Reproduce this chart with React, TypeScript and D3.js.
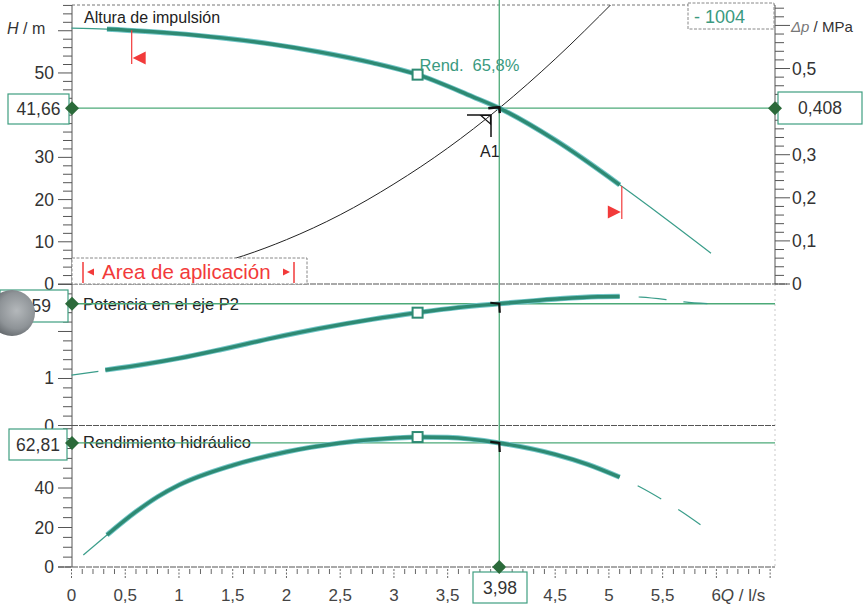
import React from "react";
import * as d3 from "d3";

// ---------- data ----------
const Q_H = [0, 0.33, 0.94, 1.4, 1.87, 2.3, 2.8, 3.22, 3.73, 3.98, 4.5, 5.1, 5.5, 5.95];
const H_VAL = [60.6, 60.4, 59.4, 58.3, 56.8, 55.0, 52.4, 49.6, 44.4, 41.66, 34.1, 23.5, 16.0, 7.3];

const Q_SYS = [1.2, 1.6, 2, 2.5, 3, 3.5, 3.98, 4.5, 5.05];
const H_SYS = [3.8, 6.7, 10.5, 16.4, 23.7, 32.2, 41.66, 53.3, 67.0];

const Q_P = [0, 0.25, 0.315, 0.7, 1.0, 1.4, 1.87, 2.3, 2.8, 3.22, 3.6, 3.98, 4.5, 4.9, 5.1, 5.3, 5.56, 5.7, 5.94];
const P_VAL = [1.07, 1.15, 1.18, 1.31, 1.43, 1.62, 1.86, 2.06, 2.26, 2.4, 2.51, 2.59, 2.69, 2.74, 2.745, 2.73, 2.67, 2.63, 2.59];

const Q_E = [0.11, 0.33, 0.6, 0.8, 1.0, 1.5, 2.0, 2.5, 3.0, 3.22, 3.5, 3.98, 4.5, 4.8, 5.1, 5.29, 5.5, 5.66, 5.88];
const E_VAL = [6.1, 16.2, 28, 35.5, 41.5, 51.5, 58.3, 62.8, 65.3, 65.8, 65.6, 62.81, 57, 52, 45.5, 40.5, 34, 28.6, 20.3];

const X_LABELS = ["0", "0,5", "1", "1,5", "2", "2,5", "3", "3,5", "", "4,5", "5", "5,5"];
const H_LABELS = [[0, "0"], [10, "10"], [20, "20"], [30, "30"], [50, "50"]] as [number, string][];
const DP_LABELS = [[0, "0"], [0.1, "0,1"], [0.2, "0,2"], [0.3, "0,3"], [0.5, "0,5"]] as [number, string][];
const P_LABELS = [[0, "0"], [1, "1"]] as [number, string][];
const E_LABELS = [[0, "0"], [20, "20"], [40, "40"]] as [number, string][];

const Q_OP = 3.98;
const H_OP = 41.66;
const DP_OP = 0.408;
const P_OP = 2.59;
const E_OP = 62.81;
const Q_BEP = 3.22;
const Q_APP_MIN = 0.56;
const Q_APP_MAX = 5.12;
const Q_THICK_MIN = 0.315;
const Q_THICK_MAX = 5.1;

// ---------- layout ----------
const W = 863, H = 607;
const L = 72, R = 775;
const TOP = 5, Y1 = 284, Y2 = 425.5, Y3 = 567;
const FONT = "'Liberation Sans', Arial, sans-serif";
const TEAL = "#2e8a73";
const HALO = "#72c6c8";
const THIN = "#3a9d8a";
const LINE_G = "#4caa78";
const BOX = "#3f9e80";
const DIA = "#2b6a3a";
const RED = "#f23a3a";
const TICKFS = 17.5;

const x = d3.scaleLinear().domain([0, 6.55]).range([71.5, 775.5]);
const yH = d3.scaleLinear().domain([0, 66.1]).range([Y1, TOP]);
const yDp = d3.scaleLinear().domain([0, 0.6474]).range([Y1, TOP]);
const yP = d3.scaleLinear().domain([0, 3.01]).range([Y2, Y1]);
const yE = d3.scaleLinear().domain([0, 71.9]).range([Y3, Y2 - 0.5]);

type Pt = [number, number];
const zip = (a: number[], b: number[]): Pt[] => a.map((q, i) => [q, b[i]]);
const within = (pts: Pt[], lo: number, hi: number) => pts.filter((p) => p[0] >= lo - 1e-9 && p[0] <= hi + 1e-9);

function mkLine(ys: d3.ScaleLinear<number, number>) {
  return d3
    .line<Pt>()
    .x((d) => x(d[0]))
    .y((d) => ys(d[1]))
    .curve(d3.curveMonotoneX);
}

const Diamond = ({ cx, cy }: { cx: number; cy: number }) => (
  <path d={`M${cx - 7},${cy} L${cx},${cy - 7} L${cx + 7},${cy} L${cx},${cy + 7} Z`} fill={DIA} />
);

const ValBox = ({ x0, y0, w, h, text }: { x0: number; y0: number; w: number; h: number; text: string }) => (
  <g>
    <rect x={x0} y={y0} width={w} height={h} fill="white" stroke={BOX} strokeWidth={1.2} />
    <text x={x0 + w / 2} y={y0 + h / 2 + 6} textAnchor="middle" fontSize={17.5} fill="#333" fontFamily={FONT}>
      {text}
    </text>
  </g>
);

const Square = ({ cx, cy }: { cx: number; cy: number }) => (
  <rect x={cx - 5} y={cy - 5} width={10} height={10} fill="white" stroke={TEAL} strokeWidth={2} />
);

function leftTicks(ys: d3.ScaleLinear<number, number>, lo: number, hi: number, step: number, major: number) {
  const out: JSX.Element[] = [];
  const n = Math.round((hi - lo) / step);
  for (let i = 0; i <= n; i++) {
    const v = lo + i * step;
    const isMaj = Math.abs(v / major - Math.round(v / major)) < 1e-6;
    const yy = ys(v);
    out.push(<line key={`${v}`} x1={isMaj ? 58 : 63} x2={L} y1={yy} y2={yy} stroke="#555" strokeWidth={1} />);
  }
  return out;
}

function Curve({ d, thick }: { d: string; thick?: boolean }) {
  if (!thick) return <path d={d} fill="none" stroke={THIN} strokeWidth={1.2} />;
  return (
    <g>
      <path d={d} fill="none" stroke={HALO} strokeWidth={5.2} />
      <path d={d} fill="none" stroke={TEAL} strokeWidth={3.4} />
    </g>
  );
}

export default function App() {
  const lineH = mkLine(yH);
  const lineP = mkLine(yP);
  const lineE = mkLine(yE);
  const ptsH = zip(Q_H, H_VAL);
  const ptsP = zip(Q_P, P_VAL);
  const ptsE = zip(Q_E, E_VAL);
  const ptsS = zip(Q_SYS, H_SYS);

  const xo = x(Q_OP);
  const yo = yH(H_OP);

  const xTicks: JSX.Element[] = [];
  for (let i = 0; i <= 65; i++) {
    const v = i / 10;
    const maj = i % 5 === 0;
    xTicks.push(
      <line key={i} x1={x(v)} x2={x(v)} y1={Y3 + 2} y2={Y3 + (maj ? 12 : 7)} stroke="#666" strokeWidth={1} strokeDasharray={maj ? "2,1.5" : "none"} />
    );
  }

  const rTicks: JSX.Element[] = [];
  for (let i = 0; i <= 32; i++) {
    const v = i * 0.02;
    const maj = i % 5 === 0;
    const yy = yDp(v);
    rTicks.push(<line key={i} x1={R} x2={R + (maj ? 15 : 9)} y1={yy} y2={yy} stroke="#555" strokeWidth={1} />);
  }

  return (
    <svg width={W} height={H} style={{ position: "absolute", left: 0, top: 0, background: "white" }} fontFamily={FONT}>
      <defs>
        <clipPath id="clipTop">
          <rect x={L} y={TOP} width={R - L} height={Y1 - TOP} />
        </clipPath>
        <radialGradient id="hole" cx="0.6" cy="0.45" r="0.65">
          <stop offset="0" stopColor="#b4b8bb" />
          <stop offset="0.6" stopColor="#8e9397" />
          <stop offset="1" stopColor="#5a5f63" />
        </radialGradient>
      </defs>

      {/* frame */}
      <line x1={L} x2={R} y1={TOP} y2={TOP} stroke="#777" strokeWidth={1} strokeDasharray="3,2" />
      <line x1={L} x2={L} y1={TOP} y2={Y3} stroke="#555" strokeWidth={1} />
      <line x1={R} x2={R} y1={TOP} y2={Y1} stroke="#555" strokeWidth={1} />
      <line x1={R} x2={R} y1={Y1} y2={Y3} stroke="#bbb" strokeWidth={0.8} strokeDasharray="2,3" />
      <line x1={L} x2={R + 12} y1={Y1} y2={Y1} stroke="#555" strokeWidth={1.2} strokeDasharray="6,1" />
      <line x1={L} x2={R} y1={Y2} y2={Y2} stroke="#555" strokeWidth={1.2} strokeDasharray="6,1" />
      <line x1={58} x2={R} y1={Y3} y2={Y3} stroke="#555" strokeWidth={1.2} strokeDasharray="6,1" />

      {leftTicks(yH, 0, 66, 2, 10)}
      {leftTicks(yP, 0, 3, 0.2, 1)}
      {leftTicks(yE, 0, 70, 5, 20)}
      {rTicks}
      {xTicks}

      {H_LABELS.map(([v, t]) => (
        <text key={t} x={54} y={yH(v) + 6} textAnchor="end" fontSize={TICKFS} fill="#333">{t}</text>
      ))}
      {P_LABELS.map(([v, t]) => (
        <text key={t} x={54} y={yP(v) + 6} textAnchor="end" fontSize={TICKFS} fill="#333">{t}</text>
      ))}
      {E_LABELS.map(([v, t]) => (
        <text key={t} x={54} y={yE(v) + 6} textAnchor="end" fontSize={TICKFS} fill="#333">{t}</text>
      ))}
      {DP_LABELS.map(([v, t]) => (
        <text key={t} x={792} y={yDp(v) + 6} textAnchor="start" fontSize={TICKFS} fill="#333">{t}</text>
      ))}
      {X_LABELS.map((t, i) =>
        t ? (
          <text key={i} x={x(i * 0.5)} y={601} textAnchor="middle" fontSize={17} fill="#444">{t}</text>
        ) : null
      )}
      <text x={x(6) - 5} y={601} fontSize={17} fill="#444">
        6<tspan fontStyle="italic">Q</tspan> / l/s
      </text>
      <text x={7} y={34} fontSize={16} fill="#333">
        <tspan fontStyle="italic">H</tspan> / m
      </text>
      <text x={791} y={32} fontSize={15} fill="#333">
        <tspan fontStyle="italic" fill="#777">Δp</tspan> / MPa
      </text>

      <text x={84} y={23} fontSize={16} fill="#222">Altura de impulsión</text>
      <text x={83} y={310} fontSize={16.5} fill="#222">Potencia en el eje P2</text>
      <text x={83} y={448} fontSize={16.5} fill="#222">Rendimiento hidráulico</text>

      {/* operating-point lines */}
      <line x1={L} x2={R} y1={yo} y2={yo} stroke={LINE_G} strokeWidth={1.3} />
      <line x1={L} x2={R} y1={yP(P_OP)} y2={yP(P_OP)} stroke={LINE_G} strokeWidth={1.3} />
      <line x1={L} x2={R} y1={yE(E_OP)} y2={yE(E_OP)} stroke={LINE_G} strokeWidth={1.3} />
      <line x1={xo} x2={xo} y1={0} y2={Y3} stroke={LINE_G} strokeWidth={1.3} />

      {/* system curve */}
      <path d={lineH(ptsS) ?? ""} fill="none" stroke="#222" strokeWidth={1} clipPath="url(#clipTop)" />

      {/* head curve */}
      <Curve d={lineH(ptsH) ?? ""} />
      <Curve d={lineH(within(ptsH, Q_THICK_MIN, Q_THICK_MAX)) ?? ""} thick />

      {/* power curve */}
      <Curve d={lineP(within(ptsP, 0, 0.25)) ?? ""} />
      <path d={lineP(within(ptsP, Q_THICK_MAX, 6)) ?? ""} fill="none" stroke={THIN} strokeWidth={1.2} strokeDasharray="0,19,28,17,24,100" />
      <Curve d={lineP(within(ptsP, Q_THICK_MIN, Q_THICK_MAX)) ?? ""} thick />

      {/* efficiency curve */}
      <Curve d={lineE(within(ptsE, 0, 0.33)) ?? ""} />
      <path d={lineE(within(ptsE, Q_THICK_MAX, 6)) ?? ""} fill="none" stroke={THIN} strokeWidth={1.2} strokeDasharray="0,20,27,20,27,100" />
      <Curve d={lineE(within(ptsE, 0.33, Q_THICK_MAX)) ?? ""} thick />

      {/* best efficiency markers */}
      <Square cx={x(Q_BEP)} cy={yH(49.6)} />
      <Square cx={x(Q_BEP)} cy={yP(2.4)} />
      <Square cx={x(Q_BEP)} cy={yE(65.8)} />
      <text x={x(Q_BEP) + 2} y={71} fontSize={16.5} fill="#3a9a80">
        Rend.<tspan dx={9}>65,8%</tspan>
      </text>

      {/* application limit markers */}
      <line x1={x(Q_APP_MIN)} x2={x(Q_APP_MIN)} y1={yH(60.1)} y2={64} stroke={RED} strokeWidth={1.2} />
      <path d={`M${x(Q_APP_MIN) + 1},${58} L${x(Q_APP_MIN) + 14},${51.5} L${x(Q_APP_MIN) + 14},${64.5} Z`} fill={RED} />
      <line x1={x(Q_APP_MAX)} x2={x(Q_APP_MAX)} y1={yH(23.2)} y2={219} stroke={RED} strokeWidth={1.2} />
      <path d={`M${x(Q_APP_MAX) - 1},${212} L${x(Q_APP_MAX) - 14},${205.5} L${x(Q_APP_MAX) - 14},${218.5} Z`} fill={RED} />

      {/* operating point A1 marks */}
      <path d={`M${xo - 11},${yo} L${xo},${yo - 1} L${xo + 0.5},${yo + 5}`} fill="none" stroke="#111" strokeWidth={2.5} />
      <line x1={467} x2={491} y1={115} y2={115} stroke="#111" strokeWidth={1.5} />
      <line x1={491} x2={491} y1={115} y2={137} stroke="#111" strokeWidth={1.5} />
      <path d="M481,115.5 L490.5,115.5 L490.5,124 Z" fill="none" stroke="#111" strokeWidth={1.2} />
      <text x={480} y={157} fontSize={16} fill="#222">A1</text>
      <path d={`M${xo - 9},${yP(P_OP) - 1} L${xo},${yP(P_OP)} L${xo + 0.5},${yP(P_OP) + 9}`} fill="none" stroke="#111" strokeWidth={2.2} />
      <path d={`M${xo - 9},${yE(E_OP) - 1} L${xo},${yE(E_OP)} L${xo + 0.5},${yE(E_OP) + 9}`} fill="none" stroke="#111" strokeWidth={2.2} />

      {/* application area box */}
      <rect x={L} y={258} width={235} height={26} fill="white" stroke="#888" strokeWidth={1} strokeDasharray="3,1.5" />
      <line x1={83} x2={83} y1={262} y2={283} stroke={RED} strokeWidth={1.5} />
      <line x1={294} x2={294} y1={262} y2={283} stroke={RED} strokeWidth={1.5} />
      <path d="M87,272 L94,268.5 L94,275.5 Z" fill={RED} />
      <path d="M290,272 L283,268.5 L283,275.5 Z" fill={RED} />
      <text x={102} y={279} fontSize={20.5} fill={RED}>Area de aplicación</text>

      {/* series box */}
      <rect x={688} y={3} width={86} height={26} fill="white" stroke="#888" strokeWidth={1} strokeDasharray="3,1.5" />
      <text x={694} y={23} fontSize={18} fill="#3a9a80">- 1004</text>

      {/* value boxes */}
      <ValBox x0={8} y0={94} w={61} h={30} text="41,66" />
      <ValBox x0={778} y0={92} w={84} h={32} text="0,408" />
      <ValBox x0={0} y0={290} w={68} h={32} text="2,59" />
      <ValBox x0={9} y0={429} w={58} h={31} text="62,81" />
      <ValBox x0={473} y0={572} w={54} h={31} text="3,98" />
      <Diamond cx={L} cy={yo} />
      <Diamond cx={R} cy={yDp(DP_OP)} />
      <Diamond cx={L} cy={yP(P_OP)} />
      <Diamond cx={L} cy={yE(E_OP)} />
      <Diamond cx={xo} cy={Y3} />

      {/* punched hole from the scanned sheet */}
      <circle cx={12} cy={313} r={23} fill="url(#hole)" />
    </svg>
  );
}
